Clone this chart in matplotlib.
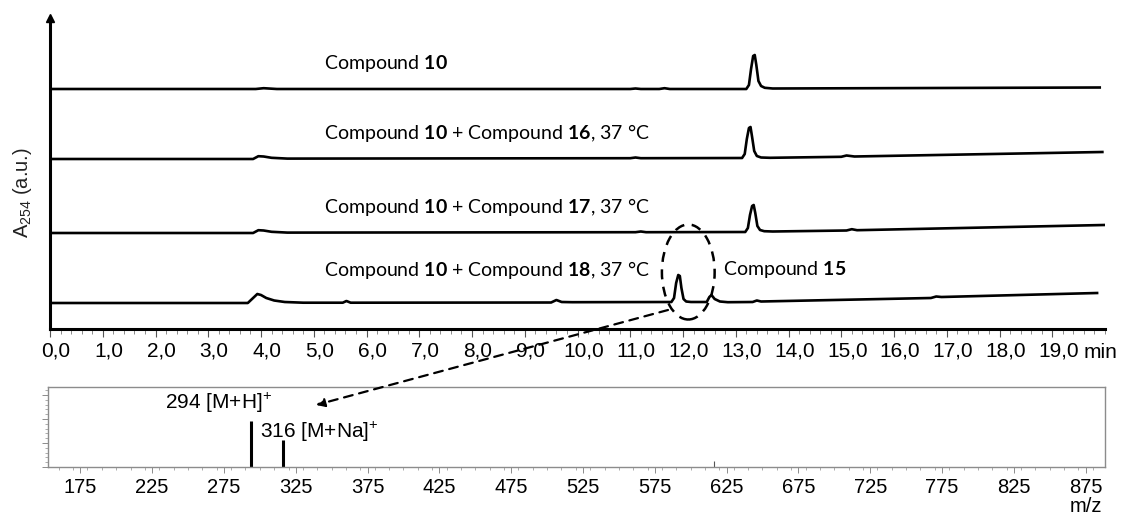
import numpy as np
import matplotlib.pyplot as plt
import matplotlib.transforms as mtransforms
from matplotlib.patches import Ellipse, FancyArrowPatch
from matplotlib.ticker import MultipleLocator, FixedLocator

plt.rcParams['font.family'] = ['Liberation Sans', 'DejaVu Sans']
plt.rcParams['mathtext.fontset'] = 'custom'
plt.rcParams['mathtext.rm'] = 'Lato'
plt.rcParams['mathtext.bf'] = 'Lato:bold'
plt.rcParams['mathtext.default'] = 'regular'

# HPLC traces (retention time in min, absorbance above the trace baseline, a.u.)
t1 = [0.05, 3.9, 4.05, 4.3, 11.0, 11.1, 11.2, 11.55, 11.65, 11.75, 13.2, 13.25,
      13.29, 13.33, 13.36, 13.39, 13.43, 13.48, 13.55, 13.7, 19.9]
a1 = [0, 0, 0.8, 0, 0, 0.5, 0, 0, 0.8, 0, 0, 4, 20, 33, 34, 24, 8, 3, 1.2, 0.5, 1.5]

t2 = [0.05, 3.85, 3.95, 4.05, 4.2, 4.5, 11.0, 11.1, 11.2, 13.12, 13.17, 13.21,
      13.25, 13.28, 13.31, 13.35, 13.4, 13.48, 13.65, 15.0, 15.1, 15.25, 19.95]
a2 = [0, 0, 2.8, 2.5, 1.2, 0.4, 0.8, 1.5, 0.8, 1, 5, 20, 31, 32, 22, 8, 3, 1.5, 1.2,
      2.2, 3.5, 2.5, 7]

t3 = [0.05, 3.85, 3.95, 4.05, 4.2, 4.5, 11.1, 11.2, 11.3, 13.18, 13.23, 13.27,
      13.31, 13.34, 13.37, 13.41, 13.46, 13.54, 13.7, 15.1, 15.2, 15.3, 19.98]
a3 = [0, 0, 2.8, 2.5, 1.2, 0.4, 0.8, 1.5, 0.8, 1, 5, 18, 27, 28, 20, 7, 3, 1.8, 1.5,
      2.5, 3.8, 2.8, 8]

t4 = [0.05, 3.75, 3.85, 3.93, 4.0, 4.1, 4.25, 4.45, 4.8, 5.55, 5.62, 5.7, 9.5, 9.6,
      9.7, 9.9, 11.78, 11.83, 11.87, 11.91, 11.94, 11.97, 12.01, 12.06, 12.15, 12.45,
      12.5, 12.54, 12.6, 12.7, 12.85, 13.32, 13.4, 13.48, 16.7, 16.8, 16.9, 19.85]
a4 = [0, 0, 5, 9, 8, 5, 2.5, 1, 0.3, 0.3, 2, 0.3, 0.5, 3, 1, 0.8, 1, 5, 20, 28, 27,
      15, 4, 1.5, 1, 1, 6, 8, 4, 1.5, 0.8, 1, 2.5, 1.5, 5, 6.5, 6, 10]

traces = [(t1, a1), (t2, a2), (t3, a3), (t4, a4)]
trace_labels = [r'Compound $\mathbf{10}$',
                r'Compound $\mathbf{10}$ + Compound $\mathbf{16}$, 37 °C',
                r'Compound $\mathbf{10}$ + Compound $\mathbf{17}$, 37 °C',
                r'Compound $\mathbf{10}$ + Compound $\mathbf{18}$, 37 °C']
offsets = [240, 170, 96, 26]
x_ticks = np.arange(0, 20, 1.0)
x_ticklabels = [f'{v:.1f}'.replace('.', ',') for v in x_ticks]

# mass spectrum of the 11.9 min peak
ms_mz = [294, 316, 616]
ms_int = [57, 34, 7]
ms_ticks = np.arange(175, 876, 50)

W, H = 1124, 516
fig = plt.figure(figsize=(W / 100, H / 100), dpi=100)

ax = fig.add_axes([50 / W, (H - 329) / H, (1105 - 50) / W, (329 - 18) / H])
for (t, a), off in zip(traces, offsets):
    ax.plot(t, np.array(a) + off, color='black', lw=1.9, solid_joinstyle='round')
ax.set_xlim(0, 20.0)
ax.set_ylim(0, 311)
for s in ['top', 'right']:
    ax.spines[s].set_visible(False)
for s in ['left', 'bottom']:
    ax.spines[s].set_linewidth(2.2)
ax.set_yticks([])
ax.xaxis.set_major_locator(FixedLocator(x_ticks))
ax.set_xticklabels(x_ticklabels, fontsize=15)
ax.xaxis.set_minor_locator(MultipleLocator(0.2))
ax.tick_params(axis='x', which='major', length=6, width=0.8, color='#555555', pad=3)
ax.tick_params(axis='x', which='minor', length=3.5, width=0.6, color='#777777')
shift = mtransforms.ScaledTranslation(6 / 100, 0, fig.dpi_scale_trans)
for lab in ax.get_xticklabels():
    lab.set_transform(lab.get_transform() + shift)
ax.plot(0, 1, marker='^', color='black', markersize=6, transform=ax.transAxes,
        clip_on=False)
fig.text(1084 / W, 1 - 352 / H, 'min', fontsize=15, ha='left', va='center')

label_y = [266, 196, 122, 59]
for lab, ly in zip(trace_labels, label_y):
    ax.text(5.2, ly, lab, fontsize=14, family='Lato', va='center')
ax.text(12.75, 59, r'Compound $\mathbf{15}$', fontsize=14, family='Lato', va='center')

ax.add_patch(Ellipse((12.1, 57), 1.0, 95, fill=False, ls=(0, (4, 3)), lw=1.8,
                     color='black', clip_on=False))

fig.text(22 / W, 1 - 193 / H, r'A$_{254}$ (a.u.)', rotation=90, fontsize=14.5,
         ha='center', va='center', color='#222222')

ax2 = fig.add_axes([48 / W, (H - 467) / H, (1105 - 48) / W, (467 - 387) / H])
ax2.vlines(ms_mz[:2], 0, ms_int[:2], color='black', lw=2.2)
ax2.vlines(ms_mz[2:], 0, ms_int[2:], color='#555555', lw=0.8)
ax2.set_xlim(152.5, 888.5)
ax2.set_ylim(0, 100)
for s in ax2.spines.values():
    s.set_color('#8c8c8c')
    s.set_linewidth(1.0)
ax2.xaxis.set_major_locator(FixedLocator(ms_ticks))
ax2.xaxis.set_minor_locator(MultipleLocator(10))
ax2.set_xticklabels([str(v) for v in ms_ticks], fontsize=14.5)
ax2.yaxis.set_major_locator(MultipleLocator(30))
ax2.yaxis.set_minor_locator(MultipleLocator(6))
ax2.set_yticklabels([])
ax2.tick_params(which='major', length=4, width=0.7, color='#8c8c8c', pad=4)
ax2.tick_params(which='minor', length=2, width=0.5, color='#8c8c8c')
ax2.text(234, 80, '294 [M+H]$^{+}$', fontsize=15, ha='left', va='center')
ax2.text(300, 44, '316 [M+Na]$^{+}$', fontsize=15, ha='left', va='center')
fig.text(1086 / W, 1 - 506 / H, 'm/z', fontsize=14.5, ha='center', va='center')

arrow = FancyArrowPatch((668, H - 310), (316, H - 405), transform=None,
                        arrowstyle='-|>,head_length=5,head_width=2.5',
                        ls=(0, (4, 3)), lw=1.6, color='black', shrinkA=0, shrinkB=0)
fig.add_artist(arrow)

fig.savefig('out.png', dpi=100)
